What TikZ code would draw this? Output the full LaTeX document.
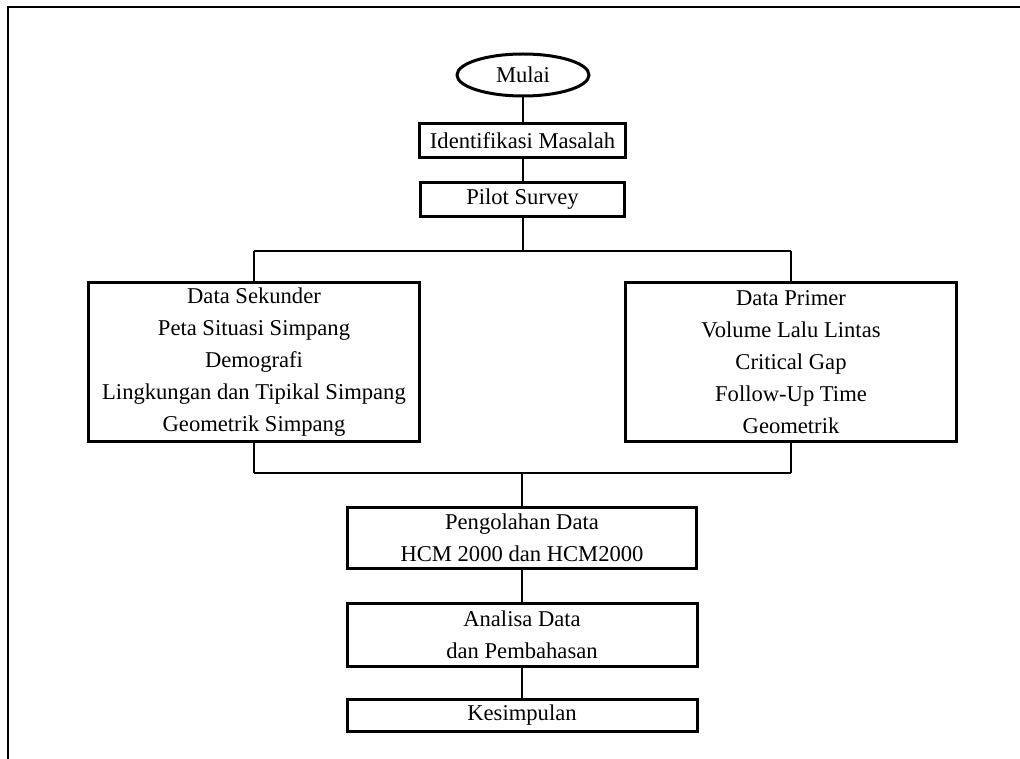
\documentclass[tikz,border=0pt]{standalone}
\usepackage{fontspec}
\setmainfont{Liberation Serif}
\usetikzlibrary{shapes.geometric}
\begin{document}
\begin{tikzpicture}[x=1pt,y=-1pt,
  every node/.style={font={\fontsize{22.6}{32}\selectfont}, align=center, inner sep=0pt},
  boxstyle/.style={draw, rectangle, line width=3pt},
  startstyle/.style={draw, ellipse, line width=3pt},
  conn/.style={line width=2pt},
  busline/.style={line width=2.8pt}]
\useasboundingbox (0,0) rectangle (1020,759);
% page frame
\draw[line width=2pt] (8,759) -- (8,7) -- (1020,7);
% nodes
\node[startstyle, minimum width=132pt, minimum height=42pt] (mulai) at (523,75) {Mulai};
\node[boxstyle, minimum width=206pt, minimum height=34pt] (ident) at (522.5,140.5) {Identifikasi Masalah};
\node[boxstyle, minimum width=204pt, minimum height=34pt] (pilot) at (522.5,199.5) {Pilot Survey};
\node[boxstyle, minimum width=331pt, minimum height=159pt] (sek) at (254,362) {Data Sekunder\\Peta Situasi Simpang\\Demografi\\Lingkungan dan Tipikal Simpang\\Geometrik Simpang};
\node[boxstyle, minimum width=331pt, minimum height=159pt] (prim) at (791,362) {Data Primer\\Volume Lalu Lintas\\Critical Gap\\Follow-Up Time\\Geometrik};
\node[boxstyle, minimum width=349pt, minimum height=61pt] (olah) at (522,538) {Pengolahan Data\\HCM 2000 dan HCM2000};
\node[boxstyle, minimum width=350pt, minimum height=63pt] (anal) at (522,635) {Analisa Data\\dan Pembahasan};
\node[boxstyle, minimum width=350pt, minimum height=32pt] (kes) at (522,715.5) {Kesimpulan};
% bus coordinates
\coordinate (bl) at (254,251);
\coordinate (br) at (791,251);
\coordinate (ll) at (254,473);
\coordinate (lr) at (791,473);
% connectors
\draw[conn] (mulai.south) -- (mulai.south |- ident.north);
\draw[conn] (ident.south) -- (pilot.north);
\draw[conn] (pilot.south) -- (pilot.south |- bl);
\draw[busline] (bl) -- (br);
\draw[conn] (bl) -- (sek.north);
\draw[conn] (br) -- (prim.north);
\draw[conn] (sek.south) -- (ll);
\draw[conn] (prim.south) -- (lr);
\draw[busline] (ll) -- (lr);
\draw[conn] (olah.north |- ll) -- (olah.north);
\draw[conn] (olah.south) -- (anal.north);
\draw[conn] (anal.south) -- (kes.north);
\end{tikzpicture}
\end{document}
